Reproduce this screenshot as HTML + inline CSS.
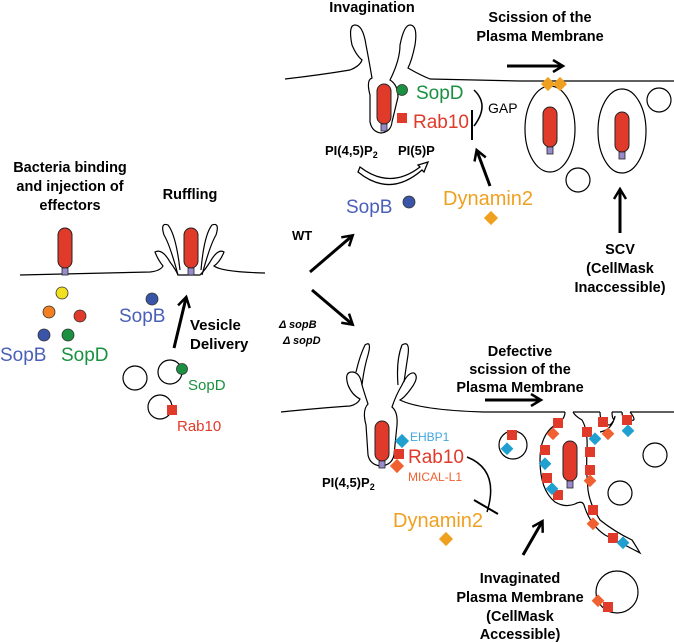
<!DOCTYPE html>
<html><head><style>
html,body{margin:0;padding:0;background:#fff;}
svg{display:block;font-family:"Liberation Sans",sans-serif;}
.b{font-weight:bold;fill:#000;}
</style></head><body>
<svg width="674" height="642" viewBox="0 0 674 642" xmlns="http://www.w3.org/2000/svg">
<defs>
<marker id="ah2" markerWidth="14" markerHeight="14" refX="10" refY="7" orient="auto" markerUnits="userSpaceOnUse">
<path d="M1,1 L11,7 L1,13" fill="none" stroke="#000" stroke-width="2.5"/>
</marker>
<g id="bac"><rect x="-7" y="-20" width="14" height="40" rx="7" fill="#e03a2a" stroke="#222" stroke-width="1"/><rect x="-3" y="20" width="6" height="7" fill="#9a8ccc" stroke="#222" stroke-width="0.8"/></g>
</defs>

<!-- LEFT -->
<text class="b" font-size="14.5" text-anchor="middle" x="70" y="172">Bacteria binding</text>
<text class="b" font-size="14.5" text-anchor="middle" x="70" y="191">and injection of</text>
<text class="b" font-size="14.5" text-anchor="middle" x="70" y="210">effectors</text>
<text class="b" font-size="14.5" text-anchor="middle" x="190" y="199">Ruffling</text>
<path d="M20,275 L150,272 Q160,271 163,266 Q158,260 155,252 Q162,248 170,262 Q176,270 178,275 L200,275 Q205,270 210,262 Q218,248 224,252 Q220,262 214,266 Q222,272 265,273" fill="none" stroke="#000" stroke-width="1.2"/>
<path d="M178,275 Q170,245 164,235 Q160,222 168,225 Q176,235 180,270" fill="none" stroke="#000" stroke-width="1.2"/>
<path d="M201,270 Q204,235 212,225 Q220,222 216,235 Q210,245 202,275" fill="none" stroke="#000" stroke-width="1.2"/>
<use href="#bac" x="65" y="248"/>
<use href="#bac" x="191" y="248"/>
<circle cx="62" cy="293" r="6" fill="#f2e020" stroke="#333" stroke-width="0.8"/>
<circle cx="49" cy="312" r="6" fill="#f08020" stroke="#333" stroke-width="0.8"/>
<circle cx="80" cy="316" r="6" fill="#e03a2a" stroke="#333" stroke-width="0.8"/>
<circle cx="44" cy="335" r="6" fill="#3a55a8" stroke="#333" stroke-width="0.8"/>
<circle cx="68" cy="335" r="6" fill="#1a9040" stroke="#333" stroke-width="0.8"/>
<text x="0" y="361" font-size="19" fill="#4a60b8">SopB</text>
<text x="61" y="361" font-size="19" fill="#1a9040">SopD</text>
<circle cx="152" cy="299" r="6" fill="#3a55a8" stroke="#333" stroke-width="0.8"/>
<text x="119" y="322" font-size="19" fill="#4a60b8">SopB</text>
<line x1="174" y1="348" x2="186" y2="298" stroke="#000" stroke-width="3" marker-end="url(#ah2)"/>
<text class="b" font-size="15" x="190" y="330">Vesicle</text>
<text class="b" font-size="15" x="190" y="349">Delivery</text>
<circle cx="135" cy="378" r="12" fill="none" stroke="#000" stroke-width="1.2"/>
<circle cx="170" cy="372" r="12" fill="none" stroke="#000" stroke-width="1.2"/>
<circle cx="182" cy="369" r="5.5" fill="#1a9040" stroke="#333" stroke-width="0.8"/>
<text x="188" y="390" font-size="15" fill="#1a9040">SopD</text>
<circle cx="160" cy="407" r="12" fill="none" stroke="#000" stroke-width="1.2"/>
<rect x="167" y="405" width="10" height="10" fill="#e03a2a"/>
<text x="177" y="431" font-size="15" fill="#e03a2a">Rab10</text>

<!-- Branch arrows -->
<text class="b" font-size="13" x="292" y="240">WT</text>
<line x1="310" y1="272" x2="352" y2="236" stroke="#000" stroke-width="3" marker-end="url(#ah2)"/>
<line x1="312" y1="290" x2="352" y2="324" stroke="#000" stroke-width="3" marker-end="url(#ah2)"/>
<text font-size="11" font-weight="bold" font-style="italic" x="279" y="328">Δ sopB</text>
<text font-size="11" font-weight="bold" font-style="italic" x="283" y="344">Δ sopD</text>

<!-- TOP WT -->
<text class="b" font-size="14.5" text-anchor="middle" x="372" y="12">Invagination</text>
<text class="b" font-size="14.5" text-anchor="middle" x="540" y="22">Scission of the</text>
<text class="b" font-size="14.5" text-anchor="middle" x="540" y="41">Plasma Membrane</text>
<line x1="507" y1="66" x2="562" y2="66" stroke="#000" stroke-width="3" marker-end="url(#ah2)"/>
<path d="M285,79 Q320,75 350,70 Q360,66 362,60 Q356,55 352,45 Q348,25 355,25 Q363,25 366,45 Q368,55 372,78 Q366,80 370,95 L370,122 Q372,132 381,133 Q391,132 392,122 L398,97 Q398,85 390,80 Q400,60 400,45 Q404,25 410,25 Q418,25 415,45 Q412,60 408,68 Q420,75 430,79 L520,81 L674,81" fill="none" stroke="#000" stroke-width="1.2"/>
<use href="#bac" x="384" y="104"/>
<circle cx="402" cy="90" r="5.5" fill="#1a9040" stroke="#333" stroke-width="0.8"/>
<rect x="397" y="113" width="10" height="10" fill="#e03a2a"/>
<text x="416" y="99" font-size="19" fill="#1a9040">SopD</text>
<text x="413" y="128" font-size="19" fill="#e03a2a">Rab10</text>
<text x="488" y="113" font-size="14" fill="#000">GAP</text>
<path d="M474,90 Q490,105 474,126" fill="none" stroke="#000" stroke-width="1.5"/>
<line x1="472" y1="110" x2="472" y2="140" stroke="#000" stroke-width="2"/>
<text class="b" font-size="13" x="325" y="155">PI(4,5)P<tspan font-size="9" dy="3">2</tspan></text>
<text class="b" font-size="13" x="398" y="155">PI(5)P</text>
<path d="M360,167 Q390,190 420,167 L418,165 L428,162 L424,172 L422,170 Q390,198 358,172 Z" fill="#fff" stroke="#000" stroke-width="1.3"/>
<text x="346" y="213" font-size="19" fill="#4a60b8">SopB</text>
<circle cx="409" cy="202" r="6" fill="#3a55a8" stroke="#333" stroke-width="0.8"/>
<line x1="490" y1="186" x2="477" y2="151" stroke="#000" stroke-width="3" marker-end="url(#ah2)"/>
<text x="443" y="205" font-size="20" fill="#f0a020">Dynamin2</text>
<rect x="486" y="213" width="10" height="10" fill="#f0a020" transform="rotate(45 491 218)"/>
<ellipse cx="550" cy="129" rx="25" ry="43" fill="none" stroke="#000" stroke-width="1.2"/>
<ellipse cx="622" cy="131" rx="24" ry="42" fill="none" stroke="#000" stroke-width="1.2"/>
<use href="#bac" x="550" y="127"/>
<use href="#bac" x="622" y="132"/>
<rect x="543" y="79" width="10" height="10" fill="#f0a020" transform="rotate(45 548 84)"/>
<rect x="555" y="79" width="10" height="10" fill="#f0a020" transform="rotate(45 560 84)"/>
<circle cx="659" cy="100" r="12" fill="none" stroke="#000" stroke-width="1.2"/>
<circle cx="578" cy="180" r="12" fill="none" stroke="#000" stroke-width="1.2"/>
<line x1="620" y1="233" x2="620" y2="190" stroke="#000" stroke-width="3" marker-end="url(#ah2)"/>
<text class="b" font-size="14.5" text-anchor="middle" x="620" y="254">SCV</text>
<text class="b" font-size="14.5" text-anchor="middle" x="620" y="273">(CellMask</text>
<text class="b" font-size="14.5" text-anchor="middle" x="620" y="292">Inaccessible)</text>

<!-- BOTTOM -->
<text class="b" font-size="14.5" text-anchor="middle" x="520" y="356">Defective</text>
<text class="b" font-size="14.5" text-anchor="middle" x="520" y="374">scission of the</text>
<text class="b" font-size="14.5" text-anchor="middle" x="520" y="392">Plasma Membrane</text>
<line x1="485" y1="400" x2="540" y2="400" stroke="#000" stroke-width="3" marker-end="url(#ah2)"/>
<path d="M281,412 Q320,408 350,406 Q358,404 360,399 Q352,395 348,385 Q344,372 352,372 Q360,372 362,385 Q364,392 368,404 Q362,410 366,425 L368,455 Q370,465 381,466 Q392,465 394,455 L397,425 Q398,412 392,407 Q396,395 402,385 Q408,372 414,373 Q420,377 410,390 Q404,398 400,400 Q420,410 483,412 L565,412 M573,412 L600,412 M612,412 L622,412 M630,412 L674,412" fill="none" stroke="#000" stroke-width="1.2"/>
<path d="M356,372 Q360,355 365,345 Q372,340 368,355 Q364,368 362,385" fill="none" stroke="#000" stroke-width="1.2"/>
<path d="M398,385 Q396,360 402,345 Q410,340 408,355 Q406,368 404,382" fill="none" stroke="#000" stroke-width="1.2"/>
<use href="#bac" x="382" y="441"/>
<rect x="397" y="436" width="10" height="10" fill="#20a0d0" transform="rotate(45 402 441)"/>
<rect x="394" y="449" width="10" height="10" fill="#e03a2a"/>
<rect x="392" y="461" width="10" height="10" fill="#f06030" transform="rotate(45 397 466)"/>
<text x="410" y="441" font-size="12" fill="#40a8e0">EHBP1</text>
<text x="408" y="463" font-size="19" fill="#e03a2a">Rab10</text>
<text x="408" y="481" font-size="12" fill="#f06030">MICAL-L1</text>
<text class="b" font-size="13" x="322" y="487">PI(4,5)P<tspan font-size="9" dy="3">2</tspan></text>
<path d="M467,457 Q500,470 487,512" fill="none" stroke="#000" stroke-width="1.5"/>
<line x1="474" y1="500" x2="498" y2="514" stroke="#000" stroke-width="2"/>
<text x="393" y="527" font-size="20" fill="#f0a020">Dynamin2</text>
<rect x="441" y="534" width="10" height="10" fill="#f0a020" transform="rotate(45 446 539)"/>
<!-- invaginated structure -->
<path d="M565,412 Q565,420 555,425 Q540,435 540,460 Q540,490 555,502 Q565,508 575,504 Q582,500 584,505 Q590,525 605,535 Q625,545 640,553 Q636,546 632,540 Q615,532 600,520 Q590,505 588,490 Q586,470 587,450 Q588,430 582,420 Q575,416 573,412" fill="none" stroke="#000" stroke-width="1.2"/>
<path d="M600,412 Q600,425 610,425 Q615,420 615,416 Q612,430 600,432 M612,412 Q612,418 614,420 M622,412 Q622,420 630,420 Q638,422 630,412" fill="none" stroke="#000" stroke-width="1.2"/>
<use href="#bac" x="570" y="461"/>
<circle cx="513" cy="445" r="14" fill="none" stroke="#000" stroke-width="1.2"/>
<circle cx="655" cy="455" r="12" fill="none" stroke="#000" stroke-width="1.2"/>
<circle cx="620" cy="493" r="12" fill="none" stroke="#000" stroke-width="1.2"/>
<circle cx="617" cy="592" r="21" fill="none" stroke="#000" stroke-width="1.2"/>
<g fill="#e03a2a">
<rect x="553" y="418" width="10" height="10"/><rect x="582" y="427" width="10" height="10"/><rect x="598" y="417" width="10" height="10"/><rect x="622" y="415" width="10" height="10"/>
<rect x="540" y="445" width="10" height="10"/><rect x="585" y="447" width="10" height="10"/><rect x="585" y="465" width="10" height="10"/><rect x="542" y="473" width="10" height="10"/>
<rect x="553" y="490" width="10" height="10"/><rect x="588" y="505" width="10" height="10"/><rect x="608" y="533" width="10" height="10"/><rect x="507" y="430" width="10" height="10"/><rect x="603" y="602" width="10" height="10"/>
</g>
<g fill="#f06030">
<rect x="549" y="429" width="9" height="9" transform="rotate(45 553 433)"/><rect x="604" y="429" width="9" height="9" transform="rotate(45 608 433)"/><rect x="586" y="476" width="9" height="9" transform="rotate(45 590 480)"/><rect x="589" y="519" width="9" height="9" transform="rotate(45 593 523)"/><rect x="594" y="596" width="9" height="9" transform="rotate(45 598 600)"/>
</g>
<g fill="#20a0d0">
<rect x="591" y="434" width="9" height="9" transform="rotate(45 595 438)"/><rect x="624" y="426" width="9" height="9" transform="rotate(45 628 430)"/><rect x="541" y="459" width="9" height="9" transform="rotate(45 545 463)"/><rect x="548" y="484" width="9" height="9" transform="rotate(45 552 488)"/><rect x="619" y="538" width="9" height="9" transform="rotate(45 623 542)"/><rect x="503" y="444" width="9" height="9" transform="rotate(45 507 448)"/>
</g>
<line x1="523" y1="555" x2="542" y2="522" stroke="#000" stroke-width="3" marker-end="url(#ah2)"/>
<text class="b" font-size="14.5" text-anchor="middle" x="520" y="583">Invaginated</text>
<text class="b" font-size="14.5" text-anchor="middle" x="520" y="602">Plasma Membrane</text>
<text class="b" font-size="14.5" text-anchor="middle" x="520" y="621">(CellMask</text>
<text class="b" font-size="14.5" text-anchor="middle" x="520" y="639">Accessible)</text>
</svg>
</body></html>
